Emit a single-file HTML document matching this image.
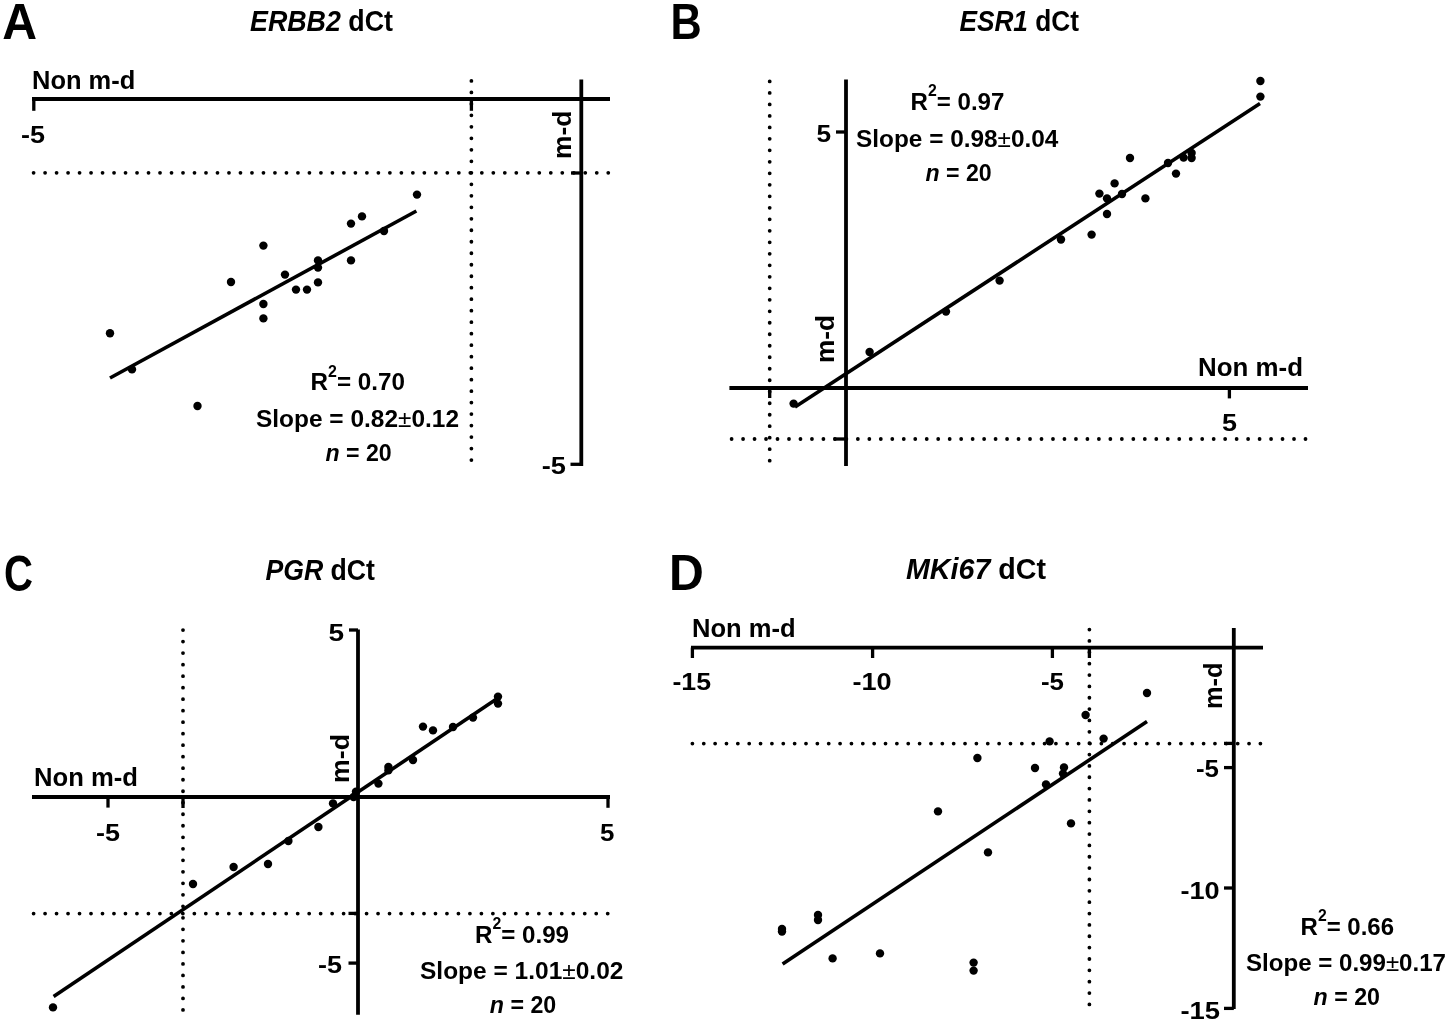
<!DOCTYPE html>
<html><head><meta charset="utf-8"><style>
html,body{margin:0;padding:0;background:#fff;}
svg{display:block;will-change:transform;}
</style></head><body>
<svg width="1450" height="1023" viewBox="0 0 1450 1023">
<rect width="1450" height="1023" fill="#fff"/>
<g stroke="#000" stroke-width="3.8" stroke-linecap="butt" fill="none">
<line x1="32" y1="99" x2="610" y2="99"/>
<line x1="581.3" y1="79.4" x2="581.3" y2="466"/>
<line x1="729.4" y1="388" x2="1308" y2="388"/>
<line x1="846" y1="79.4" x2="846" y2="466"/>
<line x1="32" y1="797" x2="610" y2="797"/>
<line x1="358" y1="629.6" x2="358" y2="1014.8"/>
<line x1="691" y1="647.6" x2="1263" y2="647.6"/>
<line x1="1233.8" y1="628" x2="1233.8" y2="1009"/>
</g>
<g stroke="#000" stroke-width="3.3" stroke-linecap="butt" fill="none">
<line x1="33.8" y1="99" x2="33.8" y2="110.8"/>
<line x1="471.4" y1="99" x2="471.4" y2="110.8"/>
<line x1="581.3" y1="173" x2="571" y2="173"/>
<line x1="581.3" y1="464.3" x2="570.5" y2="464.3"/>
<line x1="769.7" y1="388" x2="769.7" y2="398"/>
<line x1="1229.4" y1="388" x2="1229.4" y2="398.4"/>
<line x1="846" y1="132" x2="836" y2="132"/>
<line x1="846" y1="439" x2="833.7" y2="439"/>
<line x1="108" y1="797" x2="108" y2="807.6"/>
<line x1="183" y1="797" x2="183" y2="808"/>
<line x1="608" y1="797" x2="608" y2="807.8"/>
<line x1="358" y1="630" x2="349" y2="630"/>
<line x1="358" y1="913.4" x2="348.5" y2="913.4"/>
<line x1="358" y1="963.1" x2="348.5" y2="963.1"/>
<line x1="692.4" y1="647.6" x2="692.4" y2="658"/>
<line x1="872.6" y1="647.6" x2="872.6" y2="658"/>
<line x1="1052.4" y1="647.6" x2="1052.4" y2="658"/>
<line x1="1089.4" y1="647.6" x2="1089.4" y2="658"/>
<line x1="1233.8" y1="743.4" x2="1224" y2="743.4"/>
<line x1="1233.8" y1="767.6" x2="1224" y2="767.6"/>
<line x1="1233.8" y1="888" x2="1224" y2="888"/>
<line x1="1233.8" y1="1008.4" x2="1224" y2="1008.4"/>
</g>
<g stroke="#000" stroke-width="3.8" stroke-linecap="round" fill="none">
<path d="M33.60 172.80h0M45.09 172.80h0M56.59 172.80h0M68.08 172.80h0M79.57 172.80h0M91.06 172.80h0M102.56 172.80h0M114.05 172.80h0M125.54 172.80h0M137.04 172.80h0M148.53 172.80h0M160.02 172.80h0M171.52 172.80h0M183.01 172.80h0M194.50 172.80h0M206.00 172.80h0M217.49 172.80h0M228.98 172.80h0M240.47 172.80h0M251.97 172.80h0M263.46 172.80h0M274.95 172.80h0M286.45 172.80h0M297.94 172.80h0M309.43 172.80h0M320.93 172.80h0M332.42 172.80h0M343.91 172.80h0M355.40 172.80h0M366.90 172.80h0M378.39 172.80h0M389.88 172.80h0M401.38 172.80h0M412.87 172.80h0M424.36 172.80h0M435.86 172.80h0M447.35 172.80h0M458.84 172.80h0M470.33 172.80h0M481.83 172.80h0M493.32 172.80h0M504.81 172.80h0M516.31 172.80h0M527.80 172.80h0M539.29 172.80h0M550.79 172.80h0M562.28 172.80h0M573.77 172.80h0M585.26 172.80h0M596.76 172.80h0M608.25 172.80h0"/>
<path d="M471.40 80.90h0M471.40 92.39h0M471.40 103.88h0M471.40 115.37h0M471.40 126.86h0M471.40 138.35h0M471.40 149.84h0M471.40 161.33h0M471.40 172.82h0M471.40 184.31h0M471.40 195.80h0M471.40 207.29h0M471.40 218.78h0M471.40 230.27h0M471.40 241.76h0M471.40 253.25h0M471.40 264.74h0M471.40 276.23h0M471.40 287.72h0M471.40 299.21h0M471.40 310.70h0M471.40 322.19h0M471.40 333.68h0M471.40 345.17h0M471.40 356.66h0M471.40 368.15h0M471.40 379.64h0M471.40 391.13h0M471.40 402.62h0M471.40 414.11h0M471.40 425.60h0M471.40 437.09h0M471.40 448.58h0M471.40 460.07h0"/>
<path d="M731.60 439.00h0M743.08 439.00h0M754.56 439.00h0M766.03 439.00h0M777.51 439.00h0M788.99 439.00h0M800.47 439.00h0M811.95 439.00h0M823.42 439.00h0M834.90 439.00h0M846.38 439.00h0M857.86 439.00h0M869.34 439.00h0M880.81 439.00h0M892.29 439.00h0M903.77 439.00h0M915.25 439.00h0M926.73 439.00h0M938.20 439.00h0M949.68 439.00h0M961.16 439.00h0M972.64 439.00h0M984.12 439.00h0M995.59 439.00h0M1007.07 439.00h0M1018.55 439.00h0M1030.03 439.00h0M1041.51 439.00h0M1052.98 439.00h0M1064.46 439.00h0M1075.94 439.00h0M1087.42 439.00h0M1098.90 439.00h0M1110.37 439.00h0M1121.85 439.00h0M1133.33 439.00h0M1144.81 439.00h0M1156.29 439.00h0M1167.76 439.00h0M1179.24 439.00h0M1190.72 439.00h0M1202.20 439.00h0M1213.68 439.00h0M1225.15 439.00h0M1236.63 439.00h0M1248.11 439.00h0M1259.59 439.00h0M1271.07 439.00h0M1282.54 439.00h0M1294.02 439.00h0M1305.50 439.00h0"/>
<path d="M769.70 81.40h0M769.70 92.89h0M769.70 104.39h0M769.70 115.88h0M769.70 127.38h0M769.70 138.87h0M769.70 150.36h0M769.70 161.86h0M769.70 173.35h0M769.70 184.85h0M769.70 196.34h0M769.70 207.83h0M769.70 219.33h0M769.70 230.82h0M769.70 242.32h0M769.70 253.81h0M769.70 265.30h0M769.70 276.80h0M769.70 288.29h0M769.70 299.79h0M769.70 311.28h0M769.70 322.77h0M769.70 334.27h0M769.70 345.76h0M769.70 357.26h0M769.70 368.75h0M769.70 380.24h0M769.70 391.74h0M769.70 403.23h0M769.70 414.73h0M769.70 426.22h0M769.70 437.71h0M769.70 449.21h0M769.70 460.70h0"/>
<path d="M33.60 913.60h0M45.08 913.60h0M56.56 913.60h0M68.05 913.60h0M79.53 913.60h0M91.01 913.60h0M102.49 913.60h0M113.97 913.60h0M125.46 913.60h0M136.94 913.60h0M148.42 913.60h0M159.90 913.60h0M171.38 913.60h0M182.87 913.60h0M194.35 913.60h0M205.83 913.60h0M217.31 913.60h0M228.79 913.60h0M240.28 913.60h0M251.76 913.60h0M263.24 913.60h0M274.72 913.60h0M286.20 913.60h0M297.69 913.60h0M309.17 913.60h0M320.65 913.60h0M332.13 913.60h0M343.61 913.60h0M355.10 913.60h0M366.58 913.60h0M378.06 913.60h0M389.54 913.60h0M401.02 913.60h0M412.51 913.60h0M423.99 913.60h0M435.47 913.60h0M446.95 913.60h0M458.43 913.60h0M469.92 913.60h0M481.40 913.60h0M492.88 913.60h0M504.36 913.60h0M515.84 913.60h0M527.33 913.60h0M538.81 913.60h0M550.29 913.60h0M561.77 913.60h0M573.25 913.60h0M584.74 913.60h0M596.22 913.60h0M607.70 913.60h0"/>
<path d="M183.00 630.10h0M183.00 641.61h0M183.00 653.12h0M183.00 664.63h0M183.00 676.14h0M183.00 687.65h0M183.00 699.16h0M183.00 710.67h0M183.00 722.18h0M183.00 733.69h0M183.00 745.20h0M183.00 756.71h0M183.00 768.22h0M183.00 779.73h0M183.00 791.24h0M183.00 802.75h0M183.00 814.26h0M183.00 825.77h0M183.00 837.28h0M183.00 848.79h0M183.00 860.30h0M183.00 871.81h0M183.00 883.32h0M183.00 894.83h0M183.00 906.34h0M183.00 917.85h0M183.00 929.36h0M183.00 940.87h0M183.00 952.38h0M183.00 963.89h0M183.00 975.40h0M183.00 986.91h0M183.00 998.42h0M183.00 1009.93h0"/>
<path d="M692.40 743.60h0M703.76 743.60h0M715.12 743.60h0M726.48 743.60h0M737.84 743.60h0M749.20 743.60h0M760.56 743.60h0M771.92 743.60h0M783.28 743.60h0M794.64 743.60h0M806.00 743.60h0M817.36 743.60h0M828.72 743.60h0M840.08 743.60h0M851.44 743.60h0M862.80 743.60h0M874.16 743.60h0M885.52 743.60h0M896.88 743.60h0M908.24 743.60h0M919.60 743.60h0M930.96 743.60h0M942.32 743.60h0M953.68 743.60h0M965.04 743.60h0M976.40 743.60h0M987.76 743.60h0M999.12 743.60h0M1010.48 743.60h0M1021.84 743.60h0M1033.20 743.60h0M1044.56 743.60h0M1055.92 743.60h0M1067.28 743.60h0M1078.64 743.60h0M1090.00 743.60h0M1101.36 743.60h0M1112.72 743.60h0M1124.08 743.60h0M1135.44 743.60h0M1146.80 743.60h0M1158.16 743.60h0M1169.52 743.60h0M1180.88 743.60h0M1192.24 743.60h0M1203.60 743.60h0M1214.96 743.60h0M1226.32 743.60h0M1237.68 743.60h0M1249.04 743.60h0M1260.40 743.60h0"/>
<path d="M1089.40 629.60h0M1089.40 640.96h0M1089.40 652.32h0M1089.40 663.67h0M1089.40 675.03h0M1089.40 686.39h0M1089.40 697.75h0M1089.40 709.11h0M1089.40 720.46h0M1089.40 731.82h0M1089.40 743.18h0M1089.40 754.54h0M1089.40 765.90h0M1089.40 777.25h0M1089.40 788.61h0M1089.40 799.97h0M1089.40 811.33h0M1089.40 822.69h0M1089.40 834.04h0M1089.40 845.40h0M1089.40 856.76h0M1089.40 868.12h0M1089.40 879.48h0M1089.40 890.83h0M1089.40 902.19h0M1089.40 913.55h0M1089.40 924.91h0M1089.40 936.27h0M1089.40 947.62h0M1089.40 958.98h0M1089.40 970.34h0M1089.40 981.70h0M1089.40 993.06h0M1089.40 1004.41h0"/>
</g>
<g stroke="#000" stroke-width="3.6" stroke-linecap="butt" fill="none">
<line x1="110" y1="378" x2="416.4" y2="211"/>
<line x1="795" y1="407" x2="1260" y2="103.6"/>
<line x1="53.6" y1="996.6" x2="498" y2="698"/>
<line x1="782.6" y1="964" x2="1147" y2="721.6"/>
</g>
<g fill="#000">
<circle cx="110" cy="333.2" r="4.2"/>
<circle cx="132" cy="369.4" r="4.2"/>
<circle cx="197.5" cy="406" r="4.2"/>
<circle cx="231" cy="282" r="4.2"/>
<circle cx="263.4" cy="245.6" r="4.2"/>
<circle cx="263.4" cy="304" r="4.2"/>
<circle cx="263.4" cy="318.4" r="4.2"/>
<circle cx="285" cy="274.6" r="4.2"/>
<circle cx="296" cy="289.6" r="4.2"/>
<circle cx="307" cy="289.6" r="4.2"/>
<circle cx="318" cy="260.4" r="4.2"/>
<circle cx="318" cy="267.6" r="4.2"/>
<circle cx="318" cy="282.4" r="4.2"/>
<circle cx="351" cy="223.6" r="4.2"/>
<circle cx="351" cy="260.4" r="4.2"/>
<circle cx="362" cy="216.4" r="4.2"/>
<circle cx="384" cy="231" r="4.2"/>
<circle cx="417" cy="194.6" r="4.2"/>
<circle cx="793.6" cy="403.6" r="4.2"/>
<circle cx="869.6" cy="352" r="4.2"/>
<circle cx="946" cy="311.6" r="4.2"/>
<circle cx="999.6" cy="280.6" r="4.2"/>
<circle cx="1061" cy="239.5" r="4.2"/>
<circle cx="1091.6" cy="234.6" r="4.2"/>
<circle cx="1099.4" cy="193.6" r="4.2"/>
<circle cx="1107" cy="198.4" r="4.2"/>
<circle cx="1107" cy="214" r="4.2"/>
<circle cx="1114.6" cy="183.4" r="4.2"/>
<circle cx="1122" cy="194" r="4.2"/>
<circle cx="1130" cy="158" r="4.2"/>
<circle cx="1145.4" cy="198.4" r="4.2"/>
<circle cx="1168" cy="163" r="4.2"/>
<circle cx="1176" cy="173.6" r="4.2"/>
<circle cx="1183.6" cy="157.6" r="4.2"/>
<circle cx="1191.6" cy="153" r="4.2"/>
<circle cx="1191.6" cy="158" r="4.2"/>
<circle cx="1260.4" cy="81" r="4.2"/>
<circle cx="1260.4" cy="96.6" r="4.2"/>
<circle cx="53" cy="1007.4" r="4.2"/>
<circle cx="193" cy="884" r="4.2"/>
<circle cx="233.6" cy="867" r="4.2"/>
<circle cx="268" cy="864" r="4.2"/>
<circle cx="288.4" cy="841" r="4.2"/>
<circle cx="318.4" cy="827" r="4.2"/>
<circle cx="333" cy="803.4" r="4.2"/>
<circle cx="353.6" cy="797" r="4.2"/>
<circle cx="356" cy="791.6" r="4.2"/>
<circle cx="378.4" cy="783.6" r="4.2"/>
<circle cx="388.4" cy="767" r="4.2"/>
<circle cx="388.4" cy="770.4" r="4.2"/>
<circle cx="413" cy="760" r="4.2"/>
<circle cx="423" cy="726.6" r="4.2"/>
<circle cx="433" cy="730.4" r="4.2"/>
<circle cx="453" cy="727" r="4.2"/>
<circle cx="473" cy="717.6" r="4.2"/>
<circle cx="498" cy="696.6" r="4.2"/>
<circle cx="498" cy="703.6" r="4.2"/>
<circle cx="782" cy="929" r="4.2"/>
<circle cx="782" cy="931.6" r="4.2"/>
<circle cx="818" cy="915" r="4.2"/>
<circle cx="818" cy="920" r="4.2"/>
<circle cx="832.6" cy="958.4" r="4.2"/>
<circle cx="880" cy="953.4" r="4.2"/>
<circle cx="938" cy="811.4" r="4.2"/>
<circle cx="973.6" cy="962.6" r="4.2"/>
<circle cx="973.6" cy="970.6" r="4.2"/>
<circle cx="977.4" cy="758" r="4.2"/>
<circle cx="988" cy="852.4" r="4.2"/>
<circle cx="1035" cy="768" r="4.2"/>
<circle cx="1046" cy="784.4" r="4.2"/>
<circle cx="1049.6" cy="741.4" r="4.2"/>
<circle cx="1064" cy="767.4" r="4.2"/>
<circle cx="1063" cy="773.6" r="4.2"/>
<circle cx="1071" cy="823.4" r="4.2"/>
<circle cx="1085.6" cy="715" r="4.2"/>
<circle cx="1103.6" cy="738.6" r="4.2"/>
<circle cx="1147" cy="693" r="4.2"/>
</g>
<g fill="#000" font-family='"Liberation Sans", sans-serif' font-weight="bold">
<text id="lA" x="2.20" y="38.50" font-size="50.00" textLength="34.80" lengthAdjust="spacingAndGlyphs">A</text>
<text id="lB" x="670.60" y="38.77" font-size="50.00" textLength="31.20" lengthAdjust="spacingAndGlyphs">B</text>
<text id="lC" x="4.00" y="591.42" font-size="50.00" textLength="29.00" lengthAdjust="spacingAndGlyphs">C</text>
<text id="lD" x="669.00" y="590.27" font-size="50.00" textLength="34.80" lengthAdjust="spacingAndGlyphs">D</text>
<text id="tA" x="250.00" y="31.00" font-size="29.00" textLength="143.00" lengthAdjust="spacingAndGlyphs"><tspan font-style="italic">ERBB2</tspan> dCt</text>
<text id="tB" x="959.40" y="31.00" font-size="29.00" textLength="119.60" lengthAdjust="spacingAndGlyphs"><tspan font-style="italic">ESR1</tspan> dCt</text>
<text id="tC" x="265.40" y="580.32" font-size="29.00" textLength="109.60" lengthAdjust="spacingAndGlyphs"><tspan font-style="italic">PGR</tspan> dCt</text>
<text id="tD" x="906.00" y="579.32" font-size="29.00" textLength="140.00" lengthAdjust="spacingAndGlyphs"><tspan font-style="italic">MKi67</tspan> dCt</text>
<text id="nA" x="32.00" y="89.00" font-size="25.70" textLength="103.20" lengthAdjust="spacingAndGlyphs">Non m-d</text>
<text id="nB" x="1198.00" y="376.32" font-size="25.70" textLength="105.00" lengthAdjust="spacingAndGlyphs">Non m-d</text>
<text id="nC" x="34.00" y="786.00" font-size="25.70" textLength="104.00" lengthAdjust="spacingAndGlyphs">Non m-d</text>
<text id="nD" x="692.00" y="637.32" font-size="25.70" textLength="103.60" lengthAdjust="spacingAndGlyphs">Non m-d</text>
<text id="mA" x="571.00" y="159.00" font-size="26.50" textLength="48.40" lengthAdjust="spacingAndGlyphs" transform="rotate(-90 571.00 159.00)">m-d</text>
<text id="mB" x="833.60" y="363.00" font-size="26.50" textLength="48.00" lengthAdjust="spacingAndGlyphs" transform="rotate(-90 833.60 363.00)">m-d</text>
<text id="mC" x="348.60" y="783.00" font-size="26.50" textLength="49.00" lengthAdjust="spacingAndGlyphs" transform="rotate(-90 348.60 783.00)">m-d</text>
<text id="mD" x="1222.40" y="709.00" font-size="26.50" textLength="46.60" lengthAdjust="spacingAndGlyphs" transform="rotate(-90 1222.40 709.00)">m-d</text>
<text id="kA1" x="21.00" y="142.51" font-size="24.70" textLength="24.00" lengthAdjust="spacingAndGlyphs">-5</text>
<text id="kA2" x="541.80" y="474.31" font-size="24.70" textLength="24.20" lengthAdjust="spacingAndGlyphs">-5</text>
<text id="kB1" x="816.40" y="142.19" font-size="24.70" textLength="14.60" lengthAdjust="spacingAndGlyphs">5</text>
<text id="kB2" x="1222.00" y="431.14" font-size="24.70" textLength="15.00" lengthAdjust="spacingAndGlyphs">5</text>
<text id="kC1" x="328.40" y="641.00" font-size="24.70" textLength="15.60" lengthAdjust="spacingAndGlyphs">5</text>
<text id="kC2" x="96.00" y="841.14" font-size="24.70" textLength="24.00" lengthAdjust="spacingAndGlyphs">-5</text>
<text id="kC3" x="600.00" y="841.28" font-size="24.70" textLength="14.40" lengthAdjust="spacingAndGlyphs">5</text>
<text id="kC4" x="318.00" y="972.79" font-size="24.70" textLength="24.00" lengthAdjust="spacingAndGlyphs">-5</text>
<text id="kD1" x="672.40" y="690.00" font-size="24.70" textLength="38.60" lengthAdjust="spacingAndGlyphs">-15</text>
<text id="kD2" x="852.40" y="690.00" font-size="24.70" textLength="39.20" lengthAdjust="spacingAndGlyphs">-10</text>
<text id="kD3" x="1041.00" y="690.00" font-size="24.70" textLength="23.00" lengthAdjust="spacingAndGlyphs">-5</text>
<text id="kD4" x="1196.00" y="777.00" font-size="24.70" textLength="23.00" lengthAdjust="spacingAndGlyphs">-5</text>
<text id="kD5" x="1180.40" y="898.85" font-size="24.70" textLength="39.20" lengthAdjust="spacingAndGlyphs">-10</text>
<text id="kD6" x="1180.40" y="1018.85" font-size="24.70" textLength="39.60" lengthAdjust="spacingAndGlyphs">-15</text>
<text id="sA1" x="310.60" y="390.32" font-size="24.80" textLength="94.40" lengthAdjust="spacingAndGlyphs">R<tspan font-size="16.3" dy="-13.6">2</tspan><tspan dy="13.6">= 0.70</tspan></text>
<text id="sA2" x="256.00" y="427.00" font-size="24.80" textLength="203.00" lengthAdjust="spacingAndGlyphs">Slope = 0.82<tspan font-weight="normal">±</tspan>0.12</text>
<text id="sA3" x="325.40" y="460.68" font-size="24.80" textLength="66.20" lengthAdjust="spacingAndGlyphs"><tspan font-style="italic">n</tspan> = 20</text>
<text id="sB1" x="910.60" y="110.00" font-size="24.80" textLength="93.80" lengthAdjust="spacingAndGlyphs">R<tspan font-size="16.3" dy="-13.6">2</tspan><tspan dy="13.6">= 0.97</tspan></text>
<text id="sB2" x="856.00" y="146.60" font-size="24.80" textLength="202.40" lengthAdjust="spacingAndGlyphs">Slope = 0.98<tspan font-weight="normal">±</tspan>0.04</text>
<text id="sB3" x="925.40" y="181.00" font-size="24.80" textLength="66.20" lengthAdjust="spacingAndGlyphs"><tspan font-style="italic">n</tspan> = 20</text>
<text id="sC1" x="475.00" y="943.00" font-size="24.80" textLength="94.00" lengthAdjust="spacingAndGlyphs">R<tspan font-size="16.3" dy="-13.6">2</tspan><tspan dy="13.6">= 0.99</tspan></text>
<text id="sC2" x="420.00" y="979.40" font-size="24.80" textLength="203.40" lengthAdjust="spacingAndGlyphs">Slope = 1.01<tspan font-weight="normal">±</tspan>0.02</text>
<text id="sC3" x="489.80" y="1013.48" font-size="24.80" textLength="66.40" lengthAdjust="spacingAndGlyphs"><tspan font-style="italic">n</tspan> = 20</text>
<text id="sD1" x="1300.60" y="935.00" font-size="24.80" textLength="93.40" lengthAdjust="spacingAndGlyphs">R<tspan font-size="16.3" dy="-13.6">2</tspan><tspan dy="13.6">= 0.66</tspan></text>
<text id="sD2" x="1246.00" y="971.00" font-size="24.80" textLength="200.00" lengthAdjust="spacingAndGlyphs">Slope = 0.99<tspan font-weight="normal">±</tspan>0.17</text>
<text id="sD3" x="1313.60" y="1005.00" font-size="24.80" textLength="66.40" lengthAdjust="spacingAndGlyphs"><tspan font-style="italic">n</tspan> = 20</text>
</g>
</svg>
</body></html>
